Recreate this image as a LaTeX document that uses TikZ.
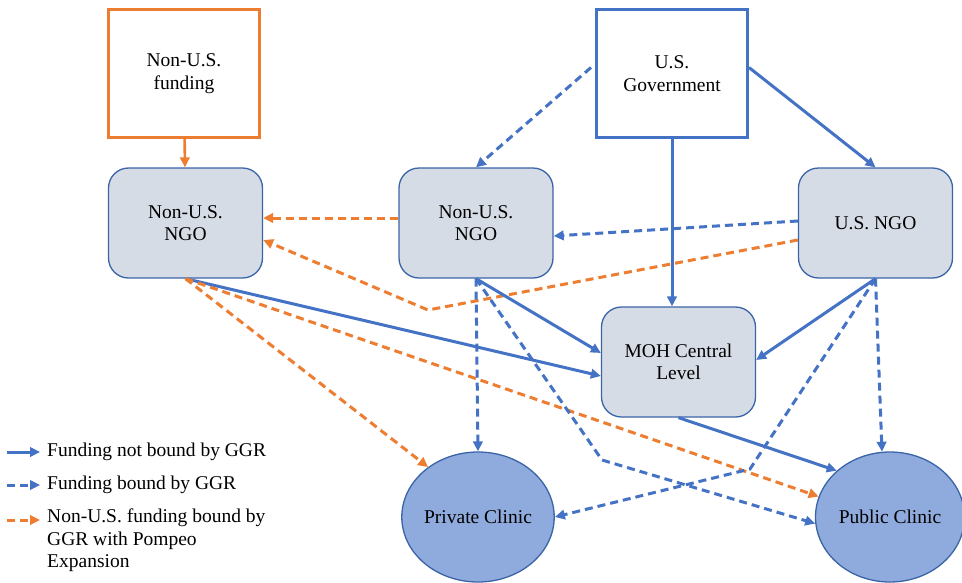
\documentclass[tikz,border=0pt]{standalone}
\usepackage{fontspec}
\setmainfont{Liberation Serif}
\usetikzlibrary{arrows.meta,calc,shapes.geometric}

\definecolor{flowblue}{HTML}{4472C4}
\definecolor{floworange}{HTML}{ED7D31}
\definecolor{edgeblue}{HTML}{3A64A8}
\definecolor{boxfill}{HTML}{D6DCE5}
\definecolor{clinicfill}{HTML}{8FAADC}

\tikzset{
  every node/.style={font=\fontsize{19.5}{22.5}\selectfont, align=center, text=black},
  srcbox/.style={draw, line width=3pt, minimum width=151pt, minimum height=128pt, inner sep=0pt},
  ngo/.style={draw=edgeblue, fill=boxfill, line width=1.3pt, rounded corners=20pt,
              minimum width=154pt, minimum height=110pt, inner sep=0pt},
  clinic/.style={ellipse, draw=edgeblue, fill=clinicfill, line width=1.3pt,
                 minimum width=149pt, minimum height=130pt, inner sep=0pt},
  flowline/.style={line width=3pt, -{Triangle[length=10pt,width=9.5pt]}},
  freeflow/.style={flowline, draw=flowblue},
  boundflow/.style={flowline, draw=flowblue, dash pattern=on 8pt off 5pt},
  pompeoflow/.style={flowline, draw=floworange, dash pattern=on 8pt off 5pt},
  legtext/.style={anchor=west, align=left, inner sep=0pt},
}

\begin{document}
\begin{tikzpicture}[x=1pt, y=-1pt]
\useasboundingbox (0,0) rectangle (962,582);

% funding sources
\node[srcbox, draw=floworange] (nusf) at (184,73.5) {Non-U.S.\\funding};
\node[srcbox, draw=flowblue] (gov) at (672,73.5) {U.S.\\Government};

% NGOs and ministry
\node[ngo] (lngo) at (185.5,223) {Non-U.S.\\NGO};
\node[ngo] (mngo) at (476,223) {Non-U.S.\\NGO};
\node[ngo] (usngo) at (875.5,223) {U.S. NGO};
\node[ngo] (moh) at (678.5,362) {MOH Central\\Level};

% clinics
\node[clinic] (priv) at (478,517) {Private Clinic};
\node[clinic] (pub) at (890,517) {Public Clinic};

% bends of the routed flows
\coordinate (bendA) at (428,310);
\coordinate (bendB) at (602,460);
\coordinate (bendC) at (750,469);

% flows from the sources
\draw[flowline, line width=2.6pt, draw=floworange] (nusf) -- (lngo);
\draw[boundflow] ($(gov.west)+(-4,-6)$) -- (mngo.north);
\draw[freeflow] ($(gov.east)+(0,-6)$) -- (usngo.north);
\draw[freeflow] (gov.south) -- (gov.south |- moh.north);

% flows between NGOs
\draw[boundflow] ($(usngo.west)+(0,-2)$) -- ($(mngo.east)+(0,13)$);
\draw[pompeoflow] ($(mngo.west)+(0,-5)$) -- ($(lngo.east)+(0,-5)$);
\draw[pompeoflow] ($(usngo.west)+(0,17)$) -- (bendA) -- ($(lngo.east)+(0,17)$);

% flows from the left NGO
\draw[freeflow] (lngo.south) -- ($(moh.west)+(0,14)$);
\draw[pompeoflow] (lngo.south) -- (priv.135);
\draw[pompeoflow] (lngo.south) -- (pub.164);

% flows from the middle NGO
\draw[freeflow] (mngo.south) -- ($(moh.west)+(0,-9)$);
\draw[boundflow] (mngo.south) -- (priv.north);
\draw[boundflow] (mngo.south) -- (bendB) -- (pub.185);

% flows from the U.S. NGO
\draw[freeflow] (usngo.south) -- ($(moh.east)+(0,-2)$);
\draw[boundflow] (usngo.south) -- (bendC) -- (priv.east);
\draw[boundflow] (usngo.south) -- (pub.97);

% ministry to public clinic
\draw[freeflow] (moh.south) -- (pub.139);

% legend
\coordinate (la1) at (7,452);  \coordinate (lb1) at (40,452);
\coordinate (la2) at (7,485);  \coordinate (lb2) at (40,485);
\coordinate (la3) at (7,520);  \coordinate (lb3) at (40,520);
\draw[freeflow] (la1) -- (lb1);
\draw[boundflow] (la2) -- (lb2);
\draw[pompeoflow] (la3) -- (lb3);
\node[legtext] (t1) at (47,452) {Funding not bound by GGR};
\node[legtext] (t2) at (47,485) {Funding bound by GGR};
\node[legtext, anchor=north west] (t3) at (47,509) {Non-U.S. funding bound by\\GGR with Pompeo\\Expansion};
\end{tikzpicture}
\end{document}
